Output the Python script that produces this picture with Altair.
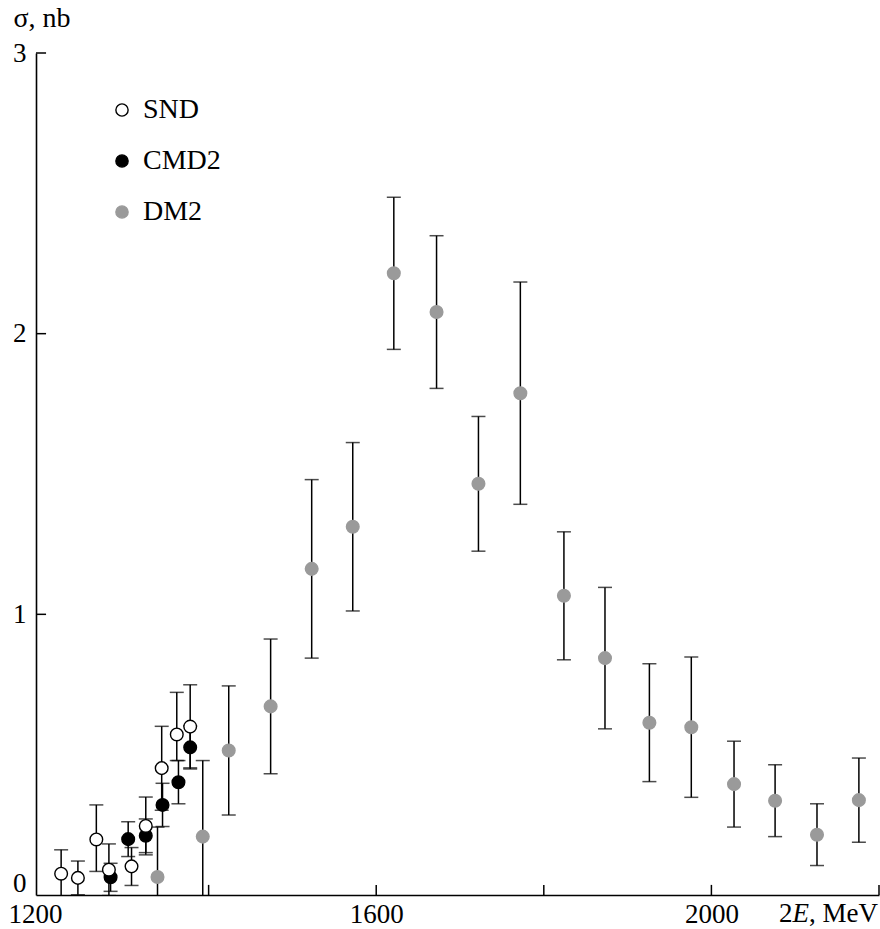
import altair as alt
import pandas as pd

# --- measurements -----------------------------------------------------------
series_order = ["SND", "CMD2", "DM2"]

# SND (open circles); errors are asymmetric
snd_energy = [1224, 1244, 1266, 1281, 1308, 1325, 1344, 1362, 1378]
snd_sigma = [0.076, 0.061, 0.198, 0.090, 0.102, 0.246, 0.452, 0.572, 0.600]
snd_err_up = [0.085, 0.060, 0.123, 0.092, 0.067, 0.103, 0.149, 0.150, 0.149]
snd_err_dn = [0.085, 0.060, 0.114, 0.092, 0.068, 0.103, 0.150, 0.093, 0.147]

# CMD2 (filled black circles)
cmd_energy = [1283, 1304, 1325, 1345, 1364, 1378]
cmd_sigma = [0.063, 0.199, 0.211, 0.321, 0.402, 0.526]
cmd_err = [0.050, 0.062, 0.060, 0.077, 0.077, 0.077]

# DM2 (grey circles)
dm2_energy = [1339, 1393, 1424, 1474, 1523, 1572, 1621, 1672, 1722,
              1772, 1824, 1873, 1926, 1976, 2027, 2076, 2126, 2176]
dm2_sigma = [0.064, 0.208, 0.515, 0.672, 1.162, 1.312, 2.215, 2.077, 1.465,
             1.788, 1.066, 0.844, 0.614, 0.598, 0.395, 0.336, 0.215, 0.338]
dm2_err = [0.178, 0.271, 0.230, 0.240, 0.318, 0.300, 0.271, 0.272, 0.240,
           0.396, 0.228, 0.252, 0.210, 0.250, 0.153, 0.128, 0.110, 0.150]

# axis ticks and labels
x_tick_values = [1400, 1600, 1800, 2000, 2200]
x_label_values = [1200, 1600, 2000]
y_tick_values = [1, 2, 3]
y_label_values = [0, 1, 2, 3]

# --- table ------------------------------------------------------------------
rows = []
for e, s, d in zip(dm2_energy, dm2_sigma, dm2_err):
    rows.append(dict(series="DM2", energy=e, sigma=s, lo=s - d, hi=s + d))
for e, s, d in zip(cmd_energy, cmd_sigma, cmd_err):
    rows.append(dict(series="CMD2", energy=e, sigma=s, lo=s - d, hi=s + d))
for e, s, up, dn in zip(snd_energy, snd_sigma, snd_err_up, snd_err_dn):
    rows.append(dict(series="SND", energy=e, sigma=s, lo=s - dn, hi=s + up))
df = pd.DataFrame(rows)
df["order"] = range(len(df))

FONT = "Liberation Serif"
FS = 27          # tick labels and axis titles
FS_LEG = 28      # legend labels
GREY = "#9a9a9a"
LABEL_PAD = 6

xs = alt.Scale(domain=[1194, 2200], nice=False, zero=False)
ys = alt.Scale(domain=[0, 3], nice=False, zero=False)

x_axis = alt.Axis(
    values=x_label_values, format="d", title=None, ticks=False, tickSize=0,
    grid=False, labelFont=FONT, labelFontSize=FS, labelColor="black",
    labelPadding=LABEL_PAD,
    labelOffset={"condition": {"test": "datum.value === 1200", "value": -6}, "value": 0},
    domainColor="black", domainWidth=1.6, labelFlush=False,
)
y_axis = alt.Axis(
    values=y_label_values, format="d", title="σ, nb", ticks=False, tickSize=0,
    grid=False, labelFont=FONT, labelFontSize=FS, labelColor="black",
    labelPadding=10,
    labelOffset={"condition": {"test": "datum.value === 0", "value": -12}, "value": 0},
    domainColor="black", domainWidth=1.6, labelFlush=False,
    titleAngle=0, titleAlign="left", titleBaseline="middle",
    titleX=-23, titleY=-35, titleFont=FONT, titleFontSize=FS_LEG,
    titleFontWeight="normal", titleColor="black",
)


def X(field):
    return alt.X(field, type="quantitative", scale=xs, axis=x_axis)


def Y(field):
    return alt.Y(field, type="quantitative", scale=ys, axis=y_axis)


base = alt.Chart(df)

# error bars with end caps
bars = base.mark_rule(color="black", strokeWidth=1.5, clip=True).encode(
    x=X("energy"), y=Y("lo"), y2="hi"
)
caps_lo = base.mark_tick(color="black", orient="horizontal", size=14,
                         thickness=1.5, clip=True).encode(x=X("energy"), y=Y("lo"))
caps_hi = base.mark_tick(color="black", orient="horizontal", size=14,
                         thickness=1.5, clip=True).encode(x=X("energy"), y=Y("hi"))

legend = alt.Legend(
    title=None, orient="none", legendX=72, legendY=43, padding=0,
    labelFont=FONT, labelFontSize=FS_LEG, labelColor="black",
    symbolSize=150, symbolStrokeWidth=1.4, rowPadding=23,
    labelOffset=7, symbolType="circle",
)

points = base.mark_point(filled=True, shape="circle", size=160, opacity=1,
                         strokeWidth=1.4).encode(
    x=X("energy"),
    y=Y("sigma"),
    order=alt.Order("order:Q"),
    fill=alt.Fill(
        "series:N",
        scale=alt.Scale(domain=series_order, range=["white", "black", GREY]),
        legend=legend,
    ),
    stroke=alt.Stroke(
        "series:N",
        scale=alt.Scale(domain=series_order, range=["black", "black", GREY]),
        legend=legend,
    ),
)

# inward tick marks on both axes
xt = pd.DataFrame({"v": x_tick_values})
yt = pd.DataFrame({"v": y_tick_values})
x_ticks = alt.Chart(xt).mark_rule(color="black", strokeWidth=1.5).encode(
    x=X("v"), y=alt.datum(0), y2=alt.datum(0.036)
)
y_ticks = alt.Chart(yt).mark_rule(color="black", strokeWidth=1.5).encode(
    y=Y("v"), x=alt.datum(1194), x2=alt.datum(1206)
)

# x-axis title "2E, MeV" with italic E, right-aligned at the end of the axis
W_REST = 2.555 * FS   # width of ", MeV"
W_E = 0.611 * FS      # width of italic "E"


def title_piece(text, dx, style):
    return alt.Chart(xt).transform_filter("datum.v === 2200").mark_text(
        text=text, align="right", baseline="top", dy=LABEL_PAD, dx=dx,
        font=FONT, fontSize=FS, fontStyle=style, color="black",
    ).encode(x=X("v"), y=alt.datum(0))


t_rest = title_piece(", MeV", -1, "normal")
t_e = title_piece("E", -1 - W_REST, "italic")
t_2 = title_piece("2", -1 - W_REST - W_E, "normal")

chart = alt.layer(
    bars, caps_lo, caps_hi, points, x_ticks, y_ticks, t_rest, t_e, t_2
).properties(
    width=843, height=842,
    padding={"left": 36, "top": 53, "right": 1, "bottom": 34},
    autosize="none",
    background="white",
).configure_view(stroke="transparent")

chart.save("out.html", embed_options={"renderer": "svg", "actions": False})
